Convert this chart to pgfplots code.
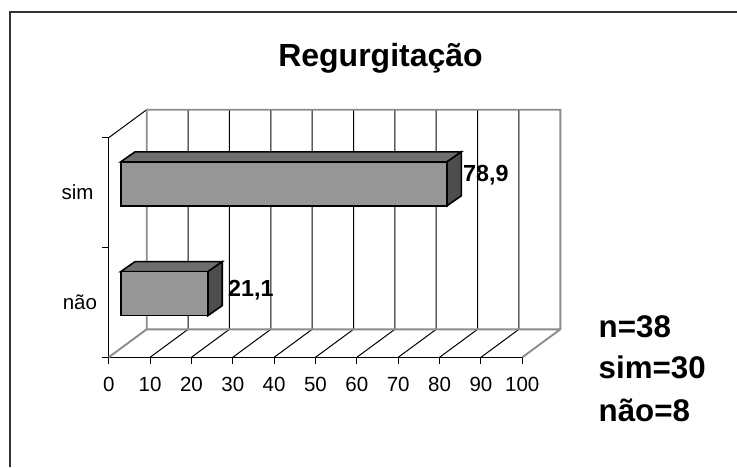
\documentclass[border=0pt]{standalone}
\usepackage{pgfplots}
\pgfplotsset{compat=1.18}
\usepackage{fontspec}
\setmainfont{Liberation Sans}
\definecolor{wallgray}{HTML}{8C8C8C}
\definecolor{barfront}{HTML}{969696}
\definecolor{bartop}{HTML}{6E6E6E}
\definecolor{barside}{HTML}{4D4D4D}
\definecolor{framec}{HTML}{333333}
\begin{document}
\begin{tikzpicture}[x=1pt,y=1pt]
\path[use as bounding box] (0,0) rectangle (737,467);
\draw[framec,line width=1.5pt] (10,0) -- (10,455) -- (737,455);
\begin{axis}[
  at={(108.7pt,109.7pt)},anchor=south west,
  scale only axis,width=413.6pt,height=219.6pt,
  xmin=0,xmax=100,ymin=0,ymax=2,
  clip=false,
  unbounded coords=jump,
  axis x line=bottom,axis y line=left,
  axis line style={black,line width=1.1pt,-},
  tick style={black,line width=0.9pt},
  major tick length=6.5pt,
  tick align=outside,
  xtick={0,10,...,100},
  ytick={0,1,2},yticklabels={},
  extra y ticks={0.5,1.5},
  extra y tick labels={\kern2.5pt não,sim\kern2.5pt},
  extra y tick style={major tick length=0pt,
    yticklabel style={anchor=base,font=\fontsize{20.5}{24}\selectfont,
      xshift=-30pt,yshift=-7pt}},
  /pgf/number format/assume math mode=true,
  xticklabel style={font=\fontsize{20.5}{24}\selectfont,anchor=base,yshift=-28pt},
]
% back wall grid and floor lines
\addplot[black,line width=1pt] coordinates {
 (19.19,0.255)(19.19,2.255)(nan,nan)(29.19,0.255)(29.19,2.255)(nan,nan)
 (39.19,0.255)(39.19,2.255)(nan,nan)(49.19,0.255)(49.19,2.255)(nan,nan)
 (59.19,0.255)(59.19,2.255)(nan,nan)(69.19,0.255)(69.19,2.255)(nan,nan)
 (79.19,0.255)(79.19,2.255)(nan,nan)(89.19,0.255)(89.19,2.255)(nan,nan)
 (99.19,0.255)(99.19,2.255)(nan,nan)
 (10,0)(19.19,0.255)(nan,nan)(20,0)(29.19,0.255)(nan,nan)
 (30,0)(39.19,0.255)(nan,nan)(40,0)(49.19,0.255)(nan,nan)
 (50,0)(59.19,0.255)(nan,nan)(60,0)(69.19,0.255)(nan,nan)
 (70,0)(79.19,0.255)(nan,nan)(80,0)(89.19,0.255)(nan,nan)
 (90,0)(99.19,0.255)(nan,nan)
 (0,2)(9.19,2.255)};
\addplot[wallgray,line width=1.9pt] coordinates {
 (0,0)(9.19,0.255)(9.19,2.255)(109.19,2.255)(109.19,0.255)(100,0)(nan,nan)
 (9.19,0.255)(109.19,0.255)};
% bars: top face, side face, front face (shifted onto the middle of the depth)
\addplot[fill=bartop,draw=black,line width=1.6pt,xshift=12pt,yshift=8.8pt] coordinates {
 (0,1.7)(78.9,1.7)(82.36,1.791)(3.46,1.791)} --cycle;
\addplot[fill=barside,draw=black,line width=1.6pt,xshift=12pt,yshift=8.8pt] coordinates {
 (78.9,1.3)(78.9,1.7)(82.36,1.791)(82.36,1.391)} --cycle;
\addplot[fill=bartop,draw=black,line width=1.6pt,xshift=12pt,yshift=8.8pt] coordinates {
 (0,0.7)(21.1,0.7)(24.56,0.791)(3.46,0.791)} --cycle;
\addplot[fill=barside,draw=black,line width=1.6pt,xshift=12pt,yshift=8.8pt] coordinates {
 (21.1,0.3)(21.1,0.7)(24.56,0.791)(24.56,0.391)} --cycle;
\addplot[xbar,bar shift=0pt,bar width=44pt,fill=barfront,draw=black,line width=1.6pt,
  xshift=12pt,yshift=8.8pt] coordinates {(78.9,1.5)(21.1,0.5)};
\end{axis}
\node[anchor=base,font=\bfseries\fontsize{32}{38}\selectfont,inner sep=0pt] at (380.5,400) {Regurgitação};
\node[anchor=base west,font=\bfseries\fontsize{23.3}{28}\selectfont,inner sep=0pt] at (463,285.3) {78,9};
\node[anchor=base west,font=\bfseries\fontsize{23.3}{28}\selectfont,inner sep=0pt] at (228,171) {21,1};
\node[anchor=base west,font=\bfseries\fontsize{31.3}{37}\selectfont,inner sep=0pt] at (598.5,130) {n=38};
\node[anchor=base west,font=\bfseries\fontsize{31.3}{37}\selectfont,inner sep=0pt] at (598.5,89) {sim=30};
\node[anchor=base west,font=\bfseries\fontsize{31.3}{37}\selectfont,inner sep=0pt] at (598.5,46) {não=8};
\end{tikzpicture}
\end{document}
